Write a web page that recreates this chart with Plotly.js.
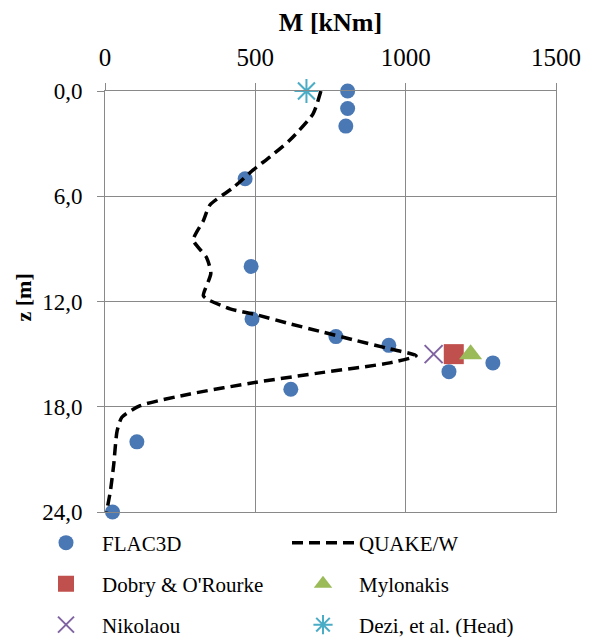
<!DOCTYPE html>
<html>
<head>
<meta charset="utf-8">
<script src="https://cdn.plot.ly/plotly-3.0.1.min.js"></script>
<style>html,body{margin:0;padding:0;background:#fff;}#chart{width:591px;height:637px;}</style>
</head>
<body>
<div id="chart"></div>
<script>
// FLAC3D results
const flacM = [807, 807, 801, 466, 486, 489, 768, 944, 1290, 1144, 618, 106, 25];
const flacZ = [0, 1, 2, 5, 10, 13, 14, 14.5, 15.5, 16, 17, 20, 24];
// QUAKE/W profile
const quakeM = [718, 692, 615, 549, 493, 427, 349, 327, 294, 338, 352, 327, 338, 416, 504, 615, 726, 836, 947, 1035, 947, 726, 504, 283, 117, 56, 40, 29, 18, 5];
const quakeZ = [0, 1.3, 2.8, 3.75, 4.5, 5.5, 6.5, 7.4, 8.5, 9.5, 10.4, 11.66, 11.85, 12.42, 12.76, 13.27, 13.75, 14.23, 14.7, 15.09, 15.5, 16.04, 16.6, 17.27, 17.94, 18.6, 19.4, 21.3, 22.8, 24];
// Analytical solutions
const dobryM = [1160], dobryZ = [15];
const mylonakisM = [1216], mylonakisZ = [15];
const nikolaouM = [1093], nikolaouZ = [15];
const deziM = [670], deziZ = [0];
// Axis ticks
const xTicks = [0, 500, 1000, 1500];
const yTicks = [0, 6, 12, 18, 24];
const yTickText = ['0,0', '6,0', '12,0', '18,0', '24,0'];

const FONT = 'Liberation Serif, Times New Roman, serif';
const GRID = '#898989';

const traces = [
  {x: flacM, y: flacZ, mode: 'markers', name: 'FLAC3D', legend: 'legend', cliponaxis: false,
   marker: {symbol: 'circle', size: 15, color: '#4A78B4'}},
  {x: quakeM, y: quakeZ, mode: 'lines', name: 'QUAKE/W', legend: 'legend2', cliponaxis: false,
   line: {color: '#000', width: 3.5, dash: '11px,6px', shape: 'spline', smoothing: 0.6}},
  {x: dobryM, y: dobryZ, mode: 'markers', name: "Dobry & O'Rourke", legend: 'legend3', cliponaxis: false,
   marker: {symbol: 'square', size: 20, color: '#C0504D'}},
  {x: mylonakisM, y: mylonakisZ, mode: 'markers', name: 'Mylonakis', legend: 'legend4', cliponaxis: false,
   marker: {symbol: 'triangle-up', size: 20, color: '#9BBB59'}},
  {x: nikolaouM, y: nikolaouZ, mode: 'markers', name: 'Nikolaou', legend: 'legend5', cliponaxis: false,
   marker: {symbol: 'x-thin-open', size: 18, color: '#8064A2', line: {width: 2, color: '#8064A2'}}},
  {x: deziM, y: deziZ, mode: 'markers', name: 'Dezi, et al. (Head)', legend: 'legend6', cliponaxis: false,
   marker: {symbol: 'asterisk-open', size: 20, color: '#4BACC6', line: {width: 2, color: '#4BACC6'}}}
];

function leg(px, py) {
  return {x: px / 591, y: 1 - py / 637, xref: 'container', yref: 'container',
    xanchor: 'left', yanchor: 'middle', orientation: 'v', itemwidth: 62,
    bgcolor: 'rgba(0,0,0,0)', borderwidth: 0,
    font: {family: FONT, size: 21, color: '#000'}};
}

const layout = {
  width: 591, height: 637,
  margin: {l: 105, r: 35, t: 91, b: 125, autoexpand: false},
  paper_bgcolor: '#fff', plot_bgcolor: '#fff',
  font: {family: FONT, color: '#000'},
  showlegend: true,
  xaxis: {
    side: 'top', range: [0, 1500], tickvals: xTicks, ticktext: xTicks.map(String),
    ticks: 'outside', ticklen: 7, tickcolor: GRID, tickwidth: 1, ticklabelstandoff: 7,
    showgrid: true, gridcolor: GRID, gridwidth: 1, zeroline: false,
    showline: true, mirror: true, linecolor: GRID, linewidth: 1,
    tickfont: {family: FONT, size: 25, color: '#000'}, automargin: true,
    title: {text: '<b>M [kNm]</b>', font: {family: FONT, size: 26, color: '#000'}, standoff: 4}
  },
  yaxis: {
    range: [24, 0], tickvals: yTicks, ticktext: yTickText, side: 'left',
    ticks: 'outside', ticklen: 7, tickcolor: GRID, tickwidth: 1, ticklabelstandoff: 10,
    showgrid: true, gridcolor: GRID, gridwidth: 1, zeroline: false,
    showline: true, mirror: true, linecolor: GRID, linewidth: 1,
    tickfont: {family: FONT, size: 23, color: '#000'}, automargin: false,
    title: {text: ''}
  },
  annotations: [{
    text: '<b>z [m]</b>', textangle: -90, xref: 'paper', yref: 'paper',
    x: 0, y: 0.5, xanchor: 'center', yanchor: 'middle', xshift: -82, yshift: 4, showarrow: false,
    font: {family: FONT, size: 22, color: '#000'}
  }],
  legend: leg(30, 543),
  legend2: leg(287, 543),
  legend3: leg(30, 584),
  legend4: leg(287, 584),
  legend5: leg(30, 625),
  legend6: leg(287, 625)
};

Plotly.newPlot('chart', traces, layout, {displayModeBar: false, staticPlot: true});
</script>
</body>
</html>
